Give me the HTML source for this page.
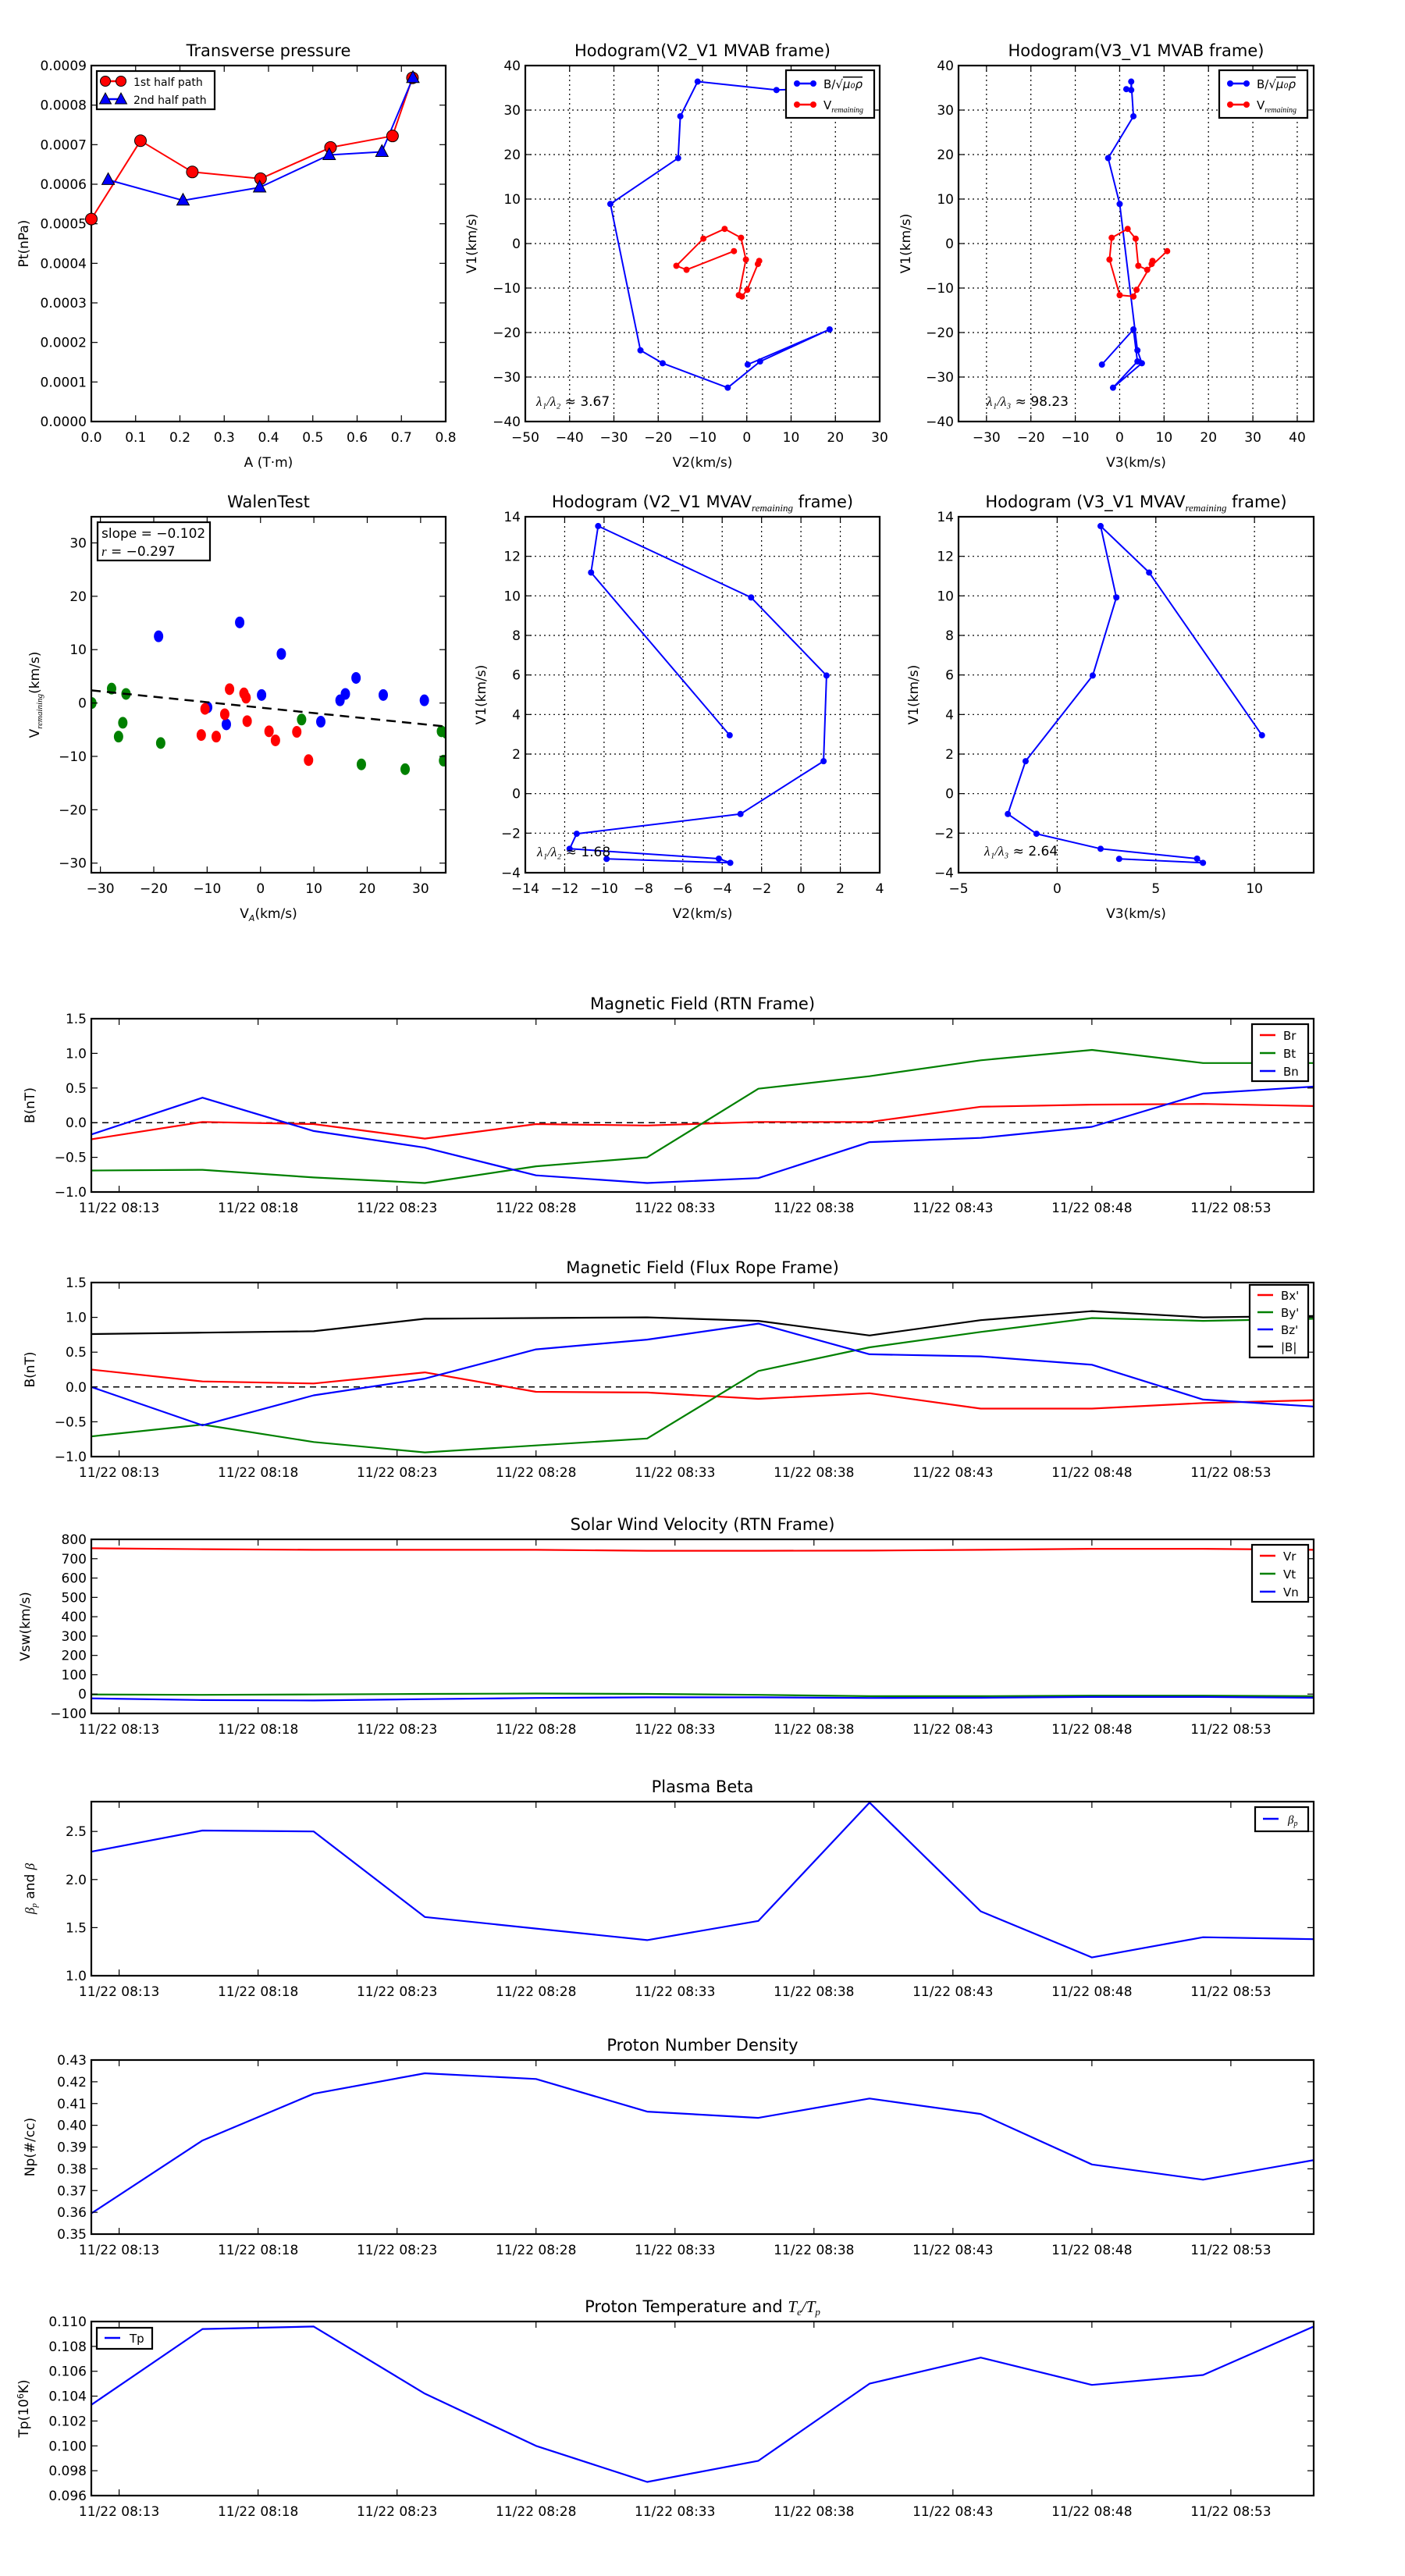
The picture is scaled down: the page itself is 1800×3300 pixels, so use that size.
<!DOCTYPE html>
<html><head><meta charset="utf-8"><title>Flux rope analysis</title>
<style>
html,body{margin:0;padding:0;background:#fff;}
svg{display:block;font-family:"DejaVu Sans","Liberation Sans",sans-serif;}
</style></head>
<body>
<svg id="fig" width="1800" height="3300" viewBox="0 0 1800 3300" xmlns="http://www.w3.org/2000/svg"></svg>
<script>
// ---------- Transverse pressure ----------
const ptA1 = [0.0, 0.111, 0.228, 0.382, 0.540, 0.680, 0.725];
const ptP1 = [0.000512, 0.000710, 0.000631, 0.000614, 0.000693, 0.000722, 0.000869];
const ptA2 = [0.038, 0.207, 0.380, 0.537, 0.656, 0.726];
const ptP2 = [0.000611, 0.000559, 0.000592, 0.000674, 0.000682, 0.000869];
// ---------- Hodogram MVAB ----------
const hbV1 = [34.7, 34.5, 36.4, 28.6, 19.2, 8.9, -24.0, -26.9, -32.4, -26.5, -19.3, -27.2];
const hbV2 = [12.0, 6.7, -11.1, -15.0, -15.5, -30.8, -24.0, -19.0, -4.3, 3.0, 18.7, 0.2];
const hbV3 = [1.5, 2.6, 2.6, 3.1, -2.6, 0.0, 4.0, 5.0, -1.5, 4.0, 3.1, -4.0];
const hrV1 = [-1.7, -5.9, -5.0, 1.1, 3.3, 1.3, -3.6, -11.6, -11.9, -10.4, -4.6, -3.9];
const hrV2 = [-2.9, -13.6, -15.9, -9.8, -5.0, -1.3, -0.2, -1.8, -1.1, 0.1, 2.5, 2.8];
const hrV3 = [10.7, 6.2, 4.2, 3.6, 1.8, -1.8, -2.3, 0.0, 3.1, 3.8, 7.2, 7.4];
// ---------- Hodogram MVAV ----------
const hvV1 = [-3.30, -3.50, -3.29, -2.79, -2.03, -1.03, 1.64, 5.97, 9.92, 13.53, 11.18, 2.95];
const hvV2 = [-9.87, -3.59, -4.17, -11.75, -11.39, -3.07, 1.15, 1.30, -2.53, -10.30, -10.66, -3.62];
const hvV3 = [3.14, 7.39, 7.09, 2.2, -1.05, -2.5, -1.6, 1.8, 3.0, 2.2, 4.66, 10.38];
// ---------- Walen test ----------
const wBx = [-19.1, -3.9, 3.9, 17.9, 15.9, 14.9, 23.0, 30.7, 0.2, -9.9, -6.4, 11.3];
const wBy = [12.5, 15.1, 9.2, 4.7, 1.7, 0.5, 1.5, 0.5, 1.5, -0.8, -4.0, -3.5];
const wRx = [-5.8, -3.1, -2.7, -10.4, -6.7, -2.5, -11.1, -8.3, 1.6, 2.8, 6.8, 9.0];
const wRy = [2.6, 1.8, 1.0, -1.1, -2.1, -3.4, -6.0, -6.3, -5.3, -7.0, -5.4, -10.7];
const wGx = [-31.6, -27.9, -25.2, -25.8, -26.6, -18.7, 7.7, 18.9, 27.1, 33.9, 34.8, 34.3];
const wGy = [0.0, 2.7, 1.7, -3.7, -6.3, -7.5, -3.1, -11.5, -12.4, -5.3, -5.6, -10.8];
const wSlope = -0.102;
const wIntercept = -0.87;
// ---------- time series (minutes after 08:13) ----------
const tMin = [-1.0, 3.0, 7.0, 11.0, 15.0, 19.0, 23.0, 27.0, 31.0, 35.0, 39.0, 42.98];
const tickLabels = ["11/22 08:13","11/22 08:18","11/22 08:23","11/22 08:28","11/22 08:33","11/22 08:38","11/22 08:43","11/22 08:48","11/22 08:53"];
const tickMins = [0,5,10,15,20,25,30,35,40];
const Br = [-0.24, 0.01, -0.02, -0.23, -0.02, -0.04, 0.01, 0.01, 0.23, 0.26, 0.27, 0.24];
const Bt = [-0.69, -0.68, -0.79, -0.87, -0.63, -0.50, 0.49, 0.67, 0.90, 1.05, 0.86, 0.86];
const Bn = [-0.17, 0.36, -0.12, -0.36, -0.76, -0.87, -0.80, -0.28, -0.22, -0.06, 0.42, 0.52];
const Bxp = [0.25, 0.08, 0.05, 0.21, -0.07, -0.08, -0.17, -0.09, -0.31, -0.31, -0.23, -0.19];
const Byp = [-0.71, -0.54, -0.79, -0.94, -0.84, -0.74, 0.23, 0.57, 0.79, 0.99, 0.95, 0.98];
const Bzp = [0.0, -0.55, -0.12, 0.12, 0.54, 0.68, 0.91, 0.47, 0.44, 0.32, -0.18, -0.28];
const Bmag = [0.76, 0.78, 0.80, 0.98, 0.99, 1.00, 0.95, 0.74, 0.96, 1.09, 1.00, 1.02];
const Vr = [754, 749, 746, 746, 746, 741, 741, 742, 746, 751, 751, 746];
const Vt = [-2, -4, -2, 1, 3, 1, -4, -11, -11, -8, -8, -11];
const Vn = [-22, -31, -33, -26, -20, -17, -17, -20, -19, -15, -15, -19];
const betaP = [2.29, 2.51, 2.50, 1.61, 1.49, 1.37, 1.57, 2.80, 1.67, 1.19, 1.40, 1.38];
const Np = [0.3595, 0.393, 0.4145, 0.4239, 0.4213, 0.4063, 0.4034, 0.4123, 0.4052, 0.382, 0.375, 0.384];
const Tp = [0.1033, 0.1094, 0.1096, 0.1042, 0.1000, 0.0971, 0.0988, 0.1050, 0.1071, 0.1049, 0.1057, 0.1096];

const NS = "http://www.w3.org/2000/svg";
const fig = document.getElementById('fig');
function mk(tag, attrs, parent){
  const e = document.createElementNS(NS, tag);
  for (const k in attrs) e.setAttribute(k, attrs[k]);
  (parent || fig).appendChild(e);
  return e;
}
function fmt(v, d){ const s = v.toFixed(d); return s.replace('-', '\u2212'); }

function axes(o){
  // o: x0,x1,y0,y1 px; xmin,xmax,ymin,ymax; name
  const g = mk('g', {});
  
  
  const sx = v => o.x0 + (v - o.xmin) / (o.xmax - o.xmin) * (o.x1 - o.x0);
  const sy = v => o.y1 - (v - o.ymin) / (o.ymax - o.ymin) * (o.y1 - o.y0);
  const clipId = 'clip-' + o.name;
  const cp = mk('clipPath', {id: clipId}, g);
  mk('rect', {x:o.x0, y:o.y0, width:o.x1-o.x0, height:o.y1-o.y0}, cp);
  const grid = mk('g', {}, g);
  
  
  const plot = mk('g', {'clip-path':'url(#' + clipId + ')'}, g);
  
  
  const ax = mk('g', {}, g);
  
  
  // x ticks
  (o.xticks || []).forEach((v, i) => {
    const X = sx(v);
    if (o.grid) {
      const gl = mk('line', {x1:X, x2:X, y1:o.y0, y2:o.y1, stroke:'#000', 'stroke-width':1.2, 'stroke-dasharray':'2,4'}, grid);
      
      
    }
    mk('line', {x1:X, x2:X, y1:o.y1, y2:o.y1-8, stroke:'#000', 'stroke-width':1.2}, ax);
    mk('line', {x1:X, x2:X, y1:o.y0, y2:o.y0+8, stroke:'#000', 'stroke-width':1.2}, ax);
    const lbl = o.xlabels ? o.xlabels[i] : fmt(v, o.xdec || 0);
    const t = mk('text', {x:X, y:o.y1+26, 'font-size':o.tfs || 17, 'text-anchor':'middle'}, ax);
    
    
    t.textContent = lbl;
  });
  (o.yticks || []).forEach(v => {
    const Y = sy(v);
    if (o.grid) {
      const gl = mk('line', {x1:o.x0, x2:o.x1, y1:Y, y2:Y, stroke:'#000', 'stroke-width':1.2, 'stroke-dasharray':'2,4'}, grid);
      
      
    }
    mk('line', {x1:o.x0, x2:o.x0+8, y1:Y, y2:Y, stroke:'#000', 'stroke-width':1.2}, ax);
    mk('line', {x1:o.x1, x2:o.x1-8, y1:Y, y2:Y, stroke:'#000', 'stroke-width':1.2}, ax);
    const t = mk('text', {x:o.x0-6, y:Y+6, 'font-size':o.tfs || 17, 'text-anchor':'end'}, ax);
    
    
    t.textContent = fmt(v, o.ydec || 0);
  });
  const fr = mk('rect', {x:o.x0, y:o.y0, width:o.x1-o.x0, height:o.y1-o.y0, fill:'none', stroke:'#000', 'stroke-width':2.2}, ax);
  
  
  if (o.title) {
    const t = mk('text', {x:(o.x0+o.x1)/2, y:o.y0-12, 'font-size':21, 'text-anchor':'middle'}, ax);
    
    
    t.innerHTML = o.title;
  }
  if (o.xlabel) {
    const t = mk('text', {x:(o.x0+o.x1)/2, y:o.y1+58, 'font-size':17, 'text-anchor':'middle'}, ax);
    
    
    t.innerHTML = o.xlabel;
  }
  if (o.ylabel) {
    const cx = o.ylx, cy = (o.y0+o.y1)/2;
    const t = mk('text', {x:cx, y:cy, 'font-size':17, 'text-anchor':'middle', transform:'rotate(-90 '+cx+' '+cy+')'}, ax);
    
    
    t.innerHTML = o.ylabel;
  }
  return {sx, sy, plot, g};
}
function polyline(a, xs, ys, color, name, w){
  const pts = xs.map((x, i) => a.sx(x).toFixed(1) + ',' + a.sy(ys[i]).toFixed(1)).join(' ');
  const p = mk('polyline', {points:pts, fill:'none', stroke:color, 'stroke-width':w || 2.2, 'stroke-linejoin':'round'}, a.plot);
  
  
  return p;
}
function dots(a, xs, ys, color, name, r, ry){
  xs.forEach((x, i) => {
    const c = mk('ellipse', {cx:a.sx(x), cy:a.sy(ys[i]), rx:r, ry:ry || r, fill:color, stroke:'none'}, a.plot);
    
    
  });
}
function legend(x, y, w, h, items, name){
  const g = mk('g', {});
  
  
  mk('rect', {x:x, y:y, width:w, height:h, fill:'#fff', stroke:'#000', 'stroke-width':2.2}, g);
  items.forEach(it => {
    const e = mk('g', {}, g);
    
    
    mk('line', {x1:x+it.lx0, x2:x+it.lx1, y1:y+it.dy, y2:y+it.dy, stroke:it.color, 'stroke-width':it.lw || 2.5}, e);
    if (it.marker === 'dot') {
      mk('circle', {cx:x+it.lx0, cy:y+it.dy, r:it.mr, fill:it.color, stroke:it.edge||'none'}, e);
      mk('circle', {cx:x+it.lx1, cy:y+it.dy, r:it.mr, fill:it.color, stroke:it.edge||'none'}, e);
    } else if (it.marker === 'tri') {
      [it.lx0, it.lx1].forEach(px => {
        const cx = x+px, cy = y+it.dy;
        mk('polygon', {points:(cx)+','+(cy-8)+' '+(cx-7.5)+','+(cy+6)+' '+(cx+7.5)+','+(cy+6), fill:it.color, stroke:'#000', 'stroke-width':1}, e);
      });
    }
    const t = mk('text', {x:x+it.tx, y:y+it.dy+6, 'font-size':it.fs || 16}, e);
    t.innerHTML = it.label;
  });
}
function ticksRange(a, b, s){ const r = []; for (let v = a; v <= b + 1e-9; v += s) r.push(Math.round(v*1e6)/1e6); return r; }

// ===== Transverse pressure =====
(function(){
  const a = axes({name:'transverse-pressure', x0:117, x1:571, y0:84, y1:540, xmin:0, xmax:0.8, ymin:0, ymax:0.0009,
    xticks:ticksRange(0,0.8,0.1), xdec:1, yticks:ticksRange(0,0.0009,0.0001), ydec:4,
    title:'Transverse pressure', xlabel:'A (T\u00b7m)', ylabel:'Pt(nPa)', ylx:36});
  polyline(a, ptA1, ptP1, '#f00', 'first-half-path-line', 2);
  polyline(a, ptA2, ptP2, '#00f', 'second-half-path-line', 2);
  ptA1.forEach((x, i) => {
    const c = mk('circle', {cx:a.sx(x), cy:a.sy(ptP1[i]), r:7.5, fill:'#f00', stroke:'#000', 'stroke-width':1}, fig);
    
    
  });
  ptA2.forEach((x, i) => {
    const cx = a.sx(x), cy = a.sy(ptP2[i]);
    const p = mk('polygon', {points:cx+','+(cy-9)+' '+(cx-8)+','+(cy+6)+' '+(cx+8)+','+(cy+6), fill:'#00f', stroke:'#000', 'stroke-width':1}, fig);
    
    
  });
  legend(124, 91, 151, 49, [
    {lx0:11, lx1:31, dy:13, color:'#f00', marker:'dot', mr:6.5, edge:'#000', tx:47, label:'1st half path', fs:14},
    {lx0:11, lx1:31, dy:36, color:'#00f', marker:'tri', tx:47, label:'2nd half path', fs:14}
  ], 'pressure-legend');
})();

const legHodo = [
  {lx0:14, lx1:35, dy:17, color:'#00f', marker:'dot', mr:4, tx:48, label:'B/\u221A<tspan text-decoration="overline" font-style="italic">\u03bc\u2080\u03c1</tspan>', fs:15},
  {lx0:14, lx1:35, dy:44, color:'#f00', marker:'dot', mr:4, tx:48, label:'V<tspan font-size="10" font-style="italic" font-family="Liberation Serif, serif" dy="4">remaining</tspan>', fs:15}
];
// ===== Hodogram V2_V1 MVAB =====
(function(){
  const a = axes({name:'hodogram-v2-v1-mvab', x0:673, x1:1127, y0:84, y1:540, xmin:-50, xmax:30, ymin:-40, ymax:40, grid:true,
    xticks:ticksRange(-50,30,10), yticks:ticksRange(-40,40,10),
    title:'Hodogram(V2_V1 MVAB frame)', xlabel:'V2(km/s)', ylabel:'V1(km/s)', ylx:610});
  polyline(a, hbV2, hbV1, '#00f', 'b-hodogram-line', 2);
  dots(a, hbV2, hbV1, '#00f', 'b-hodogram-point', 4);
  polyline(a, hrV2, hrV1, '#f00', 'v-hodogram-line', 2);
  dots(a, hrV2, hrV1, '#f00', 'v-hodogram-point', 4);
  const t = mk('text', {x:687, y:520, 'font-size':17}); t.innerHTML = '<tspan font-style="italic" font-family="Liberation Serif, serif">\u03bb\u2081/\u03bb\u2082</tspan> \u2248 3.67';
  
  
  legend(1007, 90, 113, 61, legHodo, 'hodogram-legend');
})();
// ===== Hodogram V3_V1 MVAB =====
(function(){
  const a = axes({name:'hodogram-v3-v1-mvab', x0:1228, x1:1683, y0:84, y1:540, xmin:-36.3, xmax:43.7, ymin:-40, ymax:40, grid:true,
    xticks:ticksRange(-30,40,10), yticks:ticksRange(-40,40,10),
    title:'Hodogram(V3_V1 MVAB frame)', xlabel:'V3(km/s)', ylabel:'V1(km/s)', ylx:1166});
  polyline(a, hbV3, hbV1, '#00f', 'b-hodogram-line', 2);
  dots(a, hbV3, hbV1, '#00f', 'b-hodogram-point', 4);
  polyline(a, hrV3, hrV1, '#f00', 'v-hodogram-line', 2);
  dots(a, hrV3, hrV1, '#f00', 'v-hodogram-point', 4);
  const t = mk('text', {x:1264, y:520, 'font-size':17}); t.innerHTML = '<tspan font-style="italic" font-family="Liberation Serif, serif">\u03bb\u2081/\u03bb\u2083</tspan> \u2248 98.23';
  
  
  legend(1562, 90, 113, 61, legHodo, 'hodogram-legend');
})();
// ===== Walen test =====
(function(){
  const a = axes({name:'walen-test', x0:117, x1:571, y0:662, y1:1118, xmin:-31.7, xmax:34.7, ymin:-31.8, ymax:34.9,
    xticks:ticksRange(-30,30,10), yticks:ticksRange(-30,30,10),
    title:'WalenTest', xlabel:'V<tspan font-size="11" font-style="italic" dy="4">A</tspan><tspan dy="-4">(km/s)</tspan>',
    ylabel:'V<tspan font-size="11" font-style="italic" font-family="Liberation Serif, serif" dy="4">remaining</tspan><tspan dy="-4">(km/s)</tspan>', ylx:50});
  dots(a, wBx, wBy, '#00f', 'walen-point-blue', 6, 7.5);
  dots(a, wRx, wRy, '#f00', 'walen-point-red', 6, 7.5);
  dots(a, wGx, wGy, '#008000', 'walen-point-green', 6, 7.5);
  const fx = [-31.7, 34.7];
  const fy = fx.map(x => wSlope * x + wIntercept);
  const l = polyline(a, fx, fy, '#000', 'walen-fit-line', 2.5);
  l.setAttribute('stroke-dasharray', '12,8');
  const g = mk('g', {});
  
  
  mk('rect', {x:125, y:669, width:144, height:49, fill:'#fff', stroke:'#000', 'stroke-width':2.2}, g);
  const t1 = mk('text', {x:130, y:689, 'font-size':17}, g); t1.textContent = 'slope = \u22120.102';
  const t2 = mk('text', {x:130, y:712, 'font-size':17}, g); t2.innerHTML = '<tspan font-style="italic" font-family="Liberation Serif, serif">r</tspan> = \u22120.297';
})();
// ===== Hodogram V2_V1 MVAV =====
(function(){
  const a = axes({name:'hodogram-v2-v1-mvav', x0:673, x1:1127, y0:662, y1:1118, xmin:-14, xmax:4, ymin:-4, ymax:14, grid:true,
    xticks:ticksRange(-14,4,2), yticks:ticksRange(-4,14,2),
    title:'Hodogram (V2_V1 MVAV<tspan font-size="13" font-style="italic" font-family="Liberation Serif, serif" dy="5">remaining</tspan><tspan dy="-5"> frame)</tspan>',
    xlabel:'V2(km/s)', ylabel:'V1(km/s)', ylx:622});
  polyline(a, hvV2, hvV1, '#00f', 'v-hodogram-line', 2);
  dots(a, hvV2, hvV1, '#00f', 'v-hodogram-point', 4);
  const t = mk('text', {x:688, y:1097, 'font-size':17}); t.innerHTML = '<tspan font-style="italic" font-family="Liberation Serif, serif">\u03bb\u2081/\u03bb\u2082</tspan> \u2248 1.68';
  
  
})();
// ===== Hodogram V3_V1 MVAV =====
(function(){
  const a = axes({name:'hodogram-v3-v1-mvav', x0:1228, x1:1683, y0:662, y1:1118, xmin:-5, xmax:13, ymin:-4, ymax:14, grid:true,
    xticks:[-5,0,5,10], yticks:ticksRange(-4,14,2),
    title:'Hodogram (V3_V1 MVAV<tspan font-size="13" font-style="italic" font-family="Liberation Serif, serif" dy="5">remaining</tspan><tspan dy="-5"> frame)</tspan>',
    xlabel:'V3(km/s)', ylabel:'V1(km/s)', ylx:1176});
  polyline(a, hvV3, hvV1, '#00f', 'v-hodogram-line', 2);
  dots(a, hvV3, hvV1, '#00f', 'v-hodogram-point', 4);
  const t = mk('text', {x:1261, y:1096, 'font-size':17}); t.innerHTML = '<tspan font-style="italic" font-family="Liberation Serif, serif">\u03bb\u2081/\u03bb\u2083</tspan> \u2248 2.64';
  
  
})();

// ===== time panels =====
function timePanel(o){
  return axes(Object.assign({x0:117, x1:1683, xmin:-1.0, xmax:42.98, xticks:tickMins, xlabels:tickLabels, ylx:44}, o));
}
function zeroLine(a){
  const l = polyline(a, [-1.0, 42.98], [0, 0], '#000', 'zero-reference-line', 1.5);
  l.setAttribute('stroke-dasharray', '8,6');
}
function tleg(x, y, w, h, labels, colors, name, dy0, step){
  legend(x, y, w, h, labels.map((lb, i) => ({lx0:10, lx1:30, dy:dy0 + i*step, color:colors[i], tx:40, label:lb, fs:15})), name);
}
(function(){
  const a = timePanel({name:'magnetic-field-rtn', y0:1305, y1:1527, ymin:-1.0, ymax:1.5, yticks:ticksRange(-1,1.5,0.5), ydec:1,
    title:'Magnetic Field (RTN Frame)', ylabel:'B(nT)'});
  zeroLine(a);
  polyline(a, tMin, Br, '#f00', 'br-line');
  polyline(a, tMin, Bt, '#008000', 'bt-line');
  polyline(a, tMin, Bn, '#00f', 'bn-line');
  tleg(1604, 1312, 72, 73, ['Br','Bt','Bn'], ['#f00','#008000','#00f'], 'rtn-field-legend', 14, 23);
})();
(function(){
  const a = timePanel({name:'magnetic-field-flux-rope', y0:1643, y1:1866, ymin:-1.0, ymax:1.5, yticks:ticksRange(-1,1.5,0.5), ydec:1,
    title:'Magnetic Field (Flux Rope Frame)', ylabel:'B(nT)'});
  zeroLine(a);
  polyline(a, tMin, Bxp, '#f00', 'bx-prime-line');
  polyline(a, tMin, Byp, '#008000', 'by-prime-line');
  polyline(a, tMin, Bzp, '#00f', 'bz-prime-line');
  polyline(a, tMin, Bmag, '#000', 'b-magnitude-line');
  tleg(1601, 1646, 75, 93, ["Bx'","By'","Bz'","|B|"], ['#f00','#008000','#00f','#000'], 'flux-rope-field-legend', 13, 22);
})();
(function(){
  const a = timePanel({name:'solar-wind-velocity', y0:1972, y1:2195, ymin:-100, ymax:800, yticks:ticksRange(-100,800,100), ydec:0,
    title:'Solar Wind Velocity (RTN Frame)', ylabel:'Vsw(km/s)', ylx:38});
  polyline(a, tMin, Vr, '#f00', 'vr-line');
  polyline(a, tMin, Vt, '#008000', 'vt-line');
  polyline(a, tMin, Vn, '#00f', 'vn-line');
  tleg(1604, 1979, 72, 73, ['Vr','Vt','Vn'], ['#f00','#008000','#00f'], 'velocity-legend', 14, 23);
})();
(function(){
  const a = timePanel({name:'plasma-beta', y0:2308, y1:2531, ymin:1.0, ymax:2.81, yticks:[1.0,1.5,2.0,2.5], ydec:1,
    title:'Plasma Beta', ylabel:'<tspan font-style="italic" font-family="Liberation Serif, serif">\u03b2<tspan font-size="11" dy="3">p</tspan></tspan><tspan dy="-3"> and </tspan><tspan font-style="italic" font-family="Liberation Serif, serif">\u03b2</tspan>'});
  polyline(a, tMin, betaP, '#00f', 'beta-p-line');
  legend(1608, 2315, 68, 31, [{lx0:10, lx1:30, dy:15, color:'#00f', tx:42, label:'<tspan font-style="italic" font-family="Liberation Serif, serif">\u03b2<tspan font-size="10" dy="3">p</tspan></tspan>', fs:15}], 'beta-legend');
})();
(function(){
  const a = timePanel({name:'proton-number-density', y0:2639, y1:2862, ymin:0.35, ymax:0.43, yticks:ticksRange(0.35,0.43,0.01), ydec:2,
    title:'Proton Number Density', ylabel:'Np(#/cc)'});
  polyline(a, tMin, Np, '#00f', 'np-line');
})();
(function(){
  const a = timePanel({name:'proton-temperature', y0:2974, y1:3197, ymin:0.096, ymax:0.110, yticks:ticksRange(0.096,0.110,0.002), ydec:3,
    title:'Proton Temperature and <tspan font-style="italic" font-family="Liberation Serif, serif">T<tspan font-size="13" dy="4">e</tspan><tspan dy="-4">/T</tspan><tspan font-size="13" dy="4">p</tspan></tspan>',
    ylabel:'Tp(10<tspan font-size="11" dy="-6">6</tspan><tspan dy="6">K)</tspan>', ylx:36});
  polyline(a, tMin, Tp, '#00f', 'tp-line');
  legend(124, 2982, 71, 27, [{lx0:10, lx1:30, dy:13, color:'#00f', tx:42, label:'Tp', fs:15}], 'temperature-legend');
})();
</script>
</body></html>
